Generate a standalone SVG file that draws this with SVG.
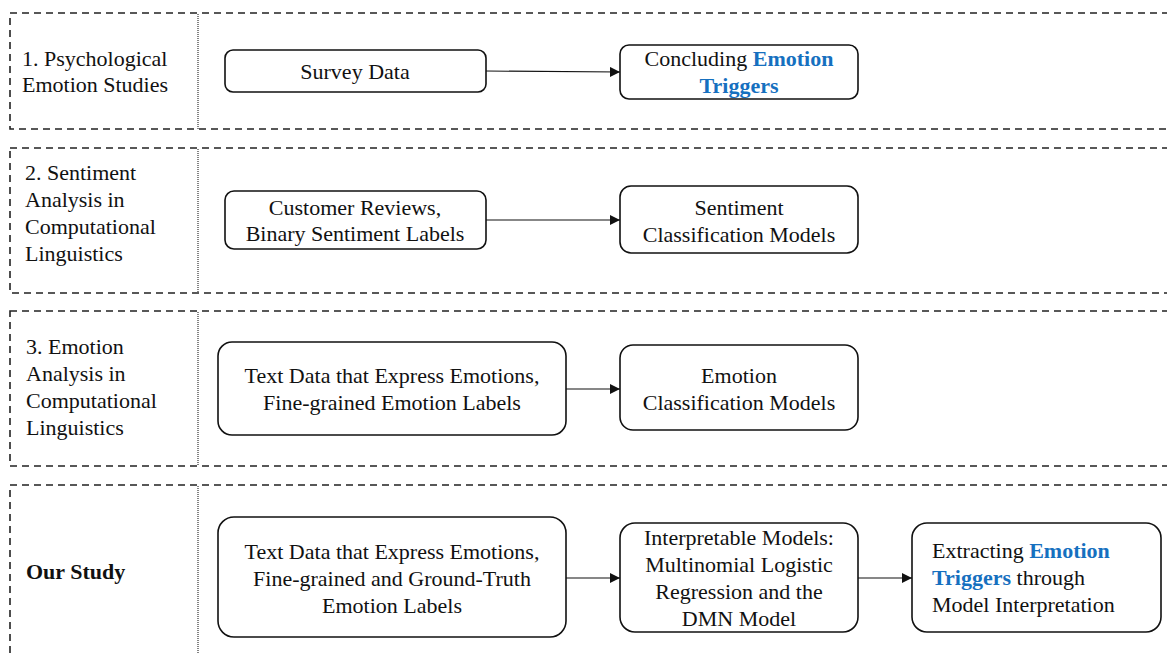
<svg xmlns="http://www.w3.org/2000/svg" width="1167" height="654" viewBox="0 0 1167 654" font-family="'Liberation Serif', 'DejaVu Serif', serif">
  <style>
    .band { fill: none; stroke: #222; stroke-width: 1.6; stroke-dasharray: 7 5; }
    .divider { stroke: #333; stroke-width: 1.2; stroke-dasharray: 1 1; }
    .box { fill: #fff; stroke: #111; stroke-width: 1.6; }
    text { font-family: 'Liberation Serif', 'DejaVu Serif', serif; font-size: 22px; fill: #111; }
    .c { text-anchor: middle; }
    .hl { fill: #1670bf; font-weight: bold; }
    .b { font-weight: bold; }
    .edge { stroke: #111; stroke-width: 1.1; fill: none; marker-end: url(#arrow); }
  </style>
  <defs>
    <marker id="arrow" viewBox="0 0 10 10" refX="10" refY="5" markerWidth="10" markerHeight="10" markerUnits="userSpaceOnUse" orient="auto">
      <path d="M0,0 L10,5 L0,10 Z" fill="#111"/>
    </marker>
  </defs>
  <rect width="1167" height="654" fill="#fff"/>

  <!-- Band frames (open to the right) -->
  <g id="bands">
    <rect class="band" x="10" y="13" width="1180" height="116"/>
    <line class="divider" x1="198" y1="14" x2="198" y2="129"/>
    <rect class="band" x="10" y="148" width="1180" height="145"/>
    <line class="divider" x1="198" y1="149" x2="198" y2="293"/>
    <rect class="band" x="10" y="311" width="1180" height="155"/>
    <line class="divider" x1="198" y1="312" x2="198" y2="466"/>
    <rect class="band" x="10" y="485" width="1180" height="200"/>
    <line class="divider" x1="198" y1="486" x2="198" y2="654"/>
  </g>

  <!-- Band titles -->
  <g id="label-1">
    <text x="22" y="66">1. Psychological</text>
    <text x="22" y="92">Emotion Studies</text>
  </g>
  <g id="label-2">
    <text x="25" y="180">2. Sentiment</text>
    <text x="25" y="207">Analysis in</text>
    <text x="25" y="234">Computational</text>
    <text x="25" y="261">Linguistics</text>
  </g>
  <g id="label-3">
    <text x="26" y="354">3. Emotion</text>
    <text x="26" y="381">Analysis in</text>
    <text x="26" y="408">Computational</text>
    <text x="26" y="435">Linguistics</text>
  </g>
  <g id="label-4">
    <text class="b" x="26" y="579">Our Study</text>
  </g>

  <!-- Connectors -->
  <g id="connectors">
    <line class="edge" x1="486" y1="71" x2="620" y2="72"/>
    <line class="edge" x1="486" y1="220" x2="620" y2="220"/>
    <line class="edge" x1="566" y1="389" x2="620" y2="389"/>
    <line class="edge" x1="566" y1="578" x2="620" y2="578"/>
    <line class="edge" x1="858" y1="578" x2="912" y2="578"/>
  </g>

  <!-- Row 1 -->
  <g id="survey-data">
    <rect class="box" x="225" y="50" width="261" height="42" rx="8"/>
    <text class="c" x="355" y="79">Survey Data</text>
  </g>
  <g id="concluding-triggers">
    <rect class="box" x="620" y="45" width="238" height="54" rx="9"/>
    <text class="c" x="739" y="66">Concluding <tspan class="hl">Emotion</tspan></text>
    <text class="c hl" x="739" y="93">Triggers</text>
  </g>

  <!-- Row 2 -->
  <g id="customer-reviews">
    <rect class="box" x="225" y="191" width="261" height="58" rx="9"/>
    <text class="c" x="355" y="215">Customer Reviews,</text>
    <text class="c" x="355" y="241">Binary Sentiment Labels</text>
  </g>
  <g id="sentiment-models">
    <rect class="box" x="620" y="186" width="238" height="67" rx="11"/>
    <text class="c" x="739" y="215">Sentiment</text>
    <text class="c" x="739" y="242">Classification Models</text>
  </g>

  <!-- Row 3 -->
  <g id="emotion-text-data">
    <rect class="box" x="218" y="342" width="348" height="93" rx="14"/>
    <text class="c" x="392" y="383">Text Data that Express Emotions,</text>
    <text class="c" x="392" y="410">Fine-grained Emotion Labels</text>
  </g>
  <g id="emotion-models">
    <rect class="box" x="620" y="345" width="238" height="85" rx="13"/>
    <text class="c" x="739" y="383">Emotion</text>
    <text class="c" x="739" y="410">Classification Models</text>
  </g>

  <!-- Row 4 -->
  <g id="study-text-data">
    <rect class="box" x="218" y="517" width="348" height="120" rx="16"/>
    <text class="c" x="392" y="559">Text Data that Express Emotions,</text>
    <text class="c" x="392" y="586">Fine-grained and Ground-Truth</text>
    <text class="c" x="392" y="613">Emotion Labels</text>
  </g>
  <g id="interpretable-models">
    <rect class="box" x="620" y="523" width="238" height="109" rx="15"/>
    <text class="c" x="739" y="545">Interpretable Models:</text>
    <text class="c" x="739" y="572">Multinomial Logistic</text>
    <text class="c" x="739" y="599">Regression and the</text>
    <text class="c" x="739" y="626">DMN Model</text>
  </g>
  <g id="extracting-triggers">
    <rect class="box" x="912" y="523" width="249" height="109" rx="15"/>
    <text x="932" y="558">Extracting <tspan class="hl">Emotion</tspan></text>
    <text x="932" y="585"><tspan class="hl">Triggers</tspan> through</text>
    <text x="932" y="612">Model Interpretation</text>
  </g>
</svg>
